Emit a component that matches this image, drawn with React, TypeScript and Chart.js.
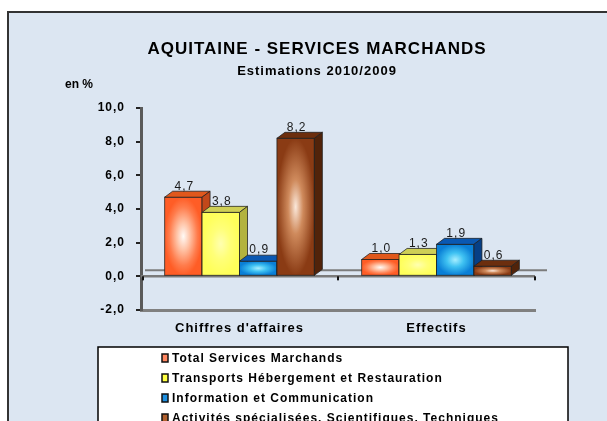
import React, { useEffect, useRef } from "react";
import { Chart, registerables } from "chart.js";

Chart.register(...registerables);

// ---------- data ----------
const categories = ["Chiffres d'affaires", "Effectifs"];
const seriesNames = [
  "Total Services Marchands",
  "Transports Hébergement et Restauration",
  "Information et Communication",
  "Activités spécialisées, Scientifiques, Techniques",
];
const totalServices = [4.7, 1.0];
const transports = [3.8, 1.3];
const information = [0.9, 1.9];
const activites = [8.2, 0.6];
const yTicks = [-2, 0, 2, 4, 6, 8, 10];
const titleText = "AQUITAINE - SERVICES MARCHANDS";
const subtitleText = "Estimations 2010/2009";
const unitText = "en %";

// ---------- styles ----------
const FONT = "'Liberation Sans', Arial, Helvetica, sans-serif";
const DX = 8;
const DY = 6;
type Palette = { stops: [number, string][]; top: string; side: string; legend: string };
const palettes: Palette[] = [
  {
    stops: [[0, "#fffaf6"], [0.35, "#ffc3a6"], [0.75, "#ff7c4c"], [1, "#ff5d26"]],
    top: "#e0581c",
    side: "#c2481a",
    legend: "#ff8660",
  },
  {
    stops: [[0, "#ffffb0"], [0.5, "#ffff78"], [1, "#ffff5a"]],
    top: "#cfcf55",
    side: "#b3b33e",
    legend: "#ffff40",
  },
  {
    stops: [[0, "#a6eeff"], [0.45, "#3fc2f2"], [1, "#0a7fd6"]],
    top: "#0a58b2",
    side: "#063f86",
    legend: "#1e8fe0",
  },
  {
    stops: [[0, "#fbe8da"], [0.4, "#cf8a5c"], [1, "#8a3b14"]],
    top: "#6c2e0e",
    side: "#51230a",
    legend: "#b0602e",
  },
];

const fmt = (v: number) => v.toFixed(1).replace(".", ",");

const plugin3d = {
  id: "bars3d",
  beforeDraw(chart: any) {
    chart.ctx.letterSpacing = "1px";
  },
  beforeDatasetsDraw(chart: any) {
    const { ctx, chartArea: a } = chart;
    const y0 = chart.scales.y.getPixelForValue(0);
    ctx.save();
    ctx.lineCap = "butt";
    ctx.strokeStyle = "#7c7c7c";
    ctx.lineWidth = 2;
    ctx.beginPath();
    ctx.moveTo(a.left + 4, y0 - DY);
    ctx.lineTo(a.right + DX + 4, y0 - DY);
    ctx.stroke();
    ctx.strokeStyle = "#7a7a7a";
    ctx.lineWidth = 2.5;
    ctx.beginPath();
    ctx.moveTo(a.left, y0);
    ctx.lineTo(a.right, y0);
    ctx.stroke();
    ctx.fillStyle = "#111";
    const n = chart.data.labels.length;
    for (let i = 0; i <= n; i++) {
      const px = a.left + ((a.right - a.left) * i) / n;
      ctx.fillRect(px - 1 + (i === 0 ? 2 : 0), y0, 2, 4);
    }
    ctx.restore();
  },
  afterDatasetsDraw(chart: any) {
    const { ctx } = chart;
    const n = chart.data.labels.length;
    const labels: { x: number; y: number; t: string }[] = [];
    ctx.save();
    for (let j = 0; j < n; j++) {
      chart.data.datasets.forEach((ds: any, i: number) => {
        const meta = chart.getDatasetMeta(i);
        const el = meta.data[j];
        if (!el) return;
        const { x, y, base, width } = el.getProps(["x", "y", "base", "width"], true);
        const p = palettes[i];
        const l = x - width / 2;
        const r = x + width / 2;
        const top = Math.min(y, base);
        const bot = Math.max(y, base);
        const h = bot - top;
        // front face with glow
        ctx.save();
        ctx.beginPath();
        ctx.rect(l, top, width, h);
        ctx.clip();
        ctx.translate(x, top + h / 2);
        ctx.scale(width / 2, Math.max(h / 2, 1));
        const g = ctx.createRadialGradient(0, 0, 0, 0, 0, 1);
        p.stops.forEach(([o, c]) => g.addColorStop(o, c));
        ctx.fillStyle = g;
        ctx.fillRect(-2, -2, 4, 4);
        ctx.restore();
        ctx.strokeStyle = "rgba(30,30,30,0.75)";
        ctx.lineWidth = 1;
        ctx.strokeRect(l, top, width, h);
        // top face
        ctx.beginPath();
        ctx.moveTo(l, top);
        ctx.lineTo(l + DX, top - DY);
        ctx.lineTo(r + DX, top - DY);
        ctx.lineTo(r, top);
        ctx.closePath();
        ctx.fillStyle = p.top;
        ctx.fill();
        ctx.stroke();
        // side face
        ctx.beginPath();
        ctx.moveTo(r, top);
        ctx.lineTo(r + DX, top - DY);
        ctx.lineTo(r + DX, bot - DY);
        ctx.lineTo(r, bot);
        ctx.closePath();
        ctx.fillStyle = p.side;
        ctx.fill();
        ctx.stroke();
        labels.push({ x: x + 1, y: top - DY - 5, t: fmt(ds.data[j]) });
      });
    }
    ctx.letterSpacing = "1px";
    ctx.font = `12px ${FONT}`;
    ctx.fillStyle = "#1a1a1a";
    ctx.textAlign = "center";
    ctx.textBaseline = "middle";
    labels.forEach((lb) => ctx.fillText(lb.t, lb.x, lb.y));
    ctx.restore();
  },
  afterDraw(chart: any) {
    const { ctx } = chart;
    ctx.save();
    ctx.fillStyle = "#000";
    ctx.textBaseline = "middle";
    ctx.textAlign = "center";
    ctx.letterSpacing = "1px";
    ctx.font = `bold 17px ${FONT}`;
    ctx.fillText(titleText, 308, 36);
    ctx.font = `bold 13px ${FONT}`;
    ctx.fillText(subtitleText, 308, 58);
    ctx.textAlign = "left";
    ctx.letterSpacing = "0px";
    ctx.font = `bold 12px ${FONT}`;
    ctx.fillText(unitText, 56, 72);

    // legend
    const L = 89, T = 334, R = 559;
    ctx.fillStyle = "#fff";
    ctx.fillRect(L, T, R - L, 120);
    ctx.strokeStyle = "#000";
    ctx.lineWidth = 1.5;
    ctx.strokeRect(L, T, R - L, 120);
    ctx.letterSpacing = "1px";
    ctx.font = `bold 12px ${FONT}`;
    chart.data.datasets.forEach((ds: any, i: number) => {
      const cy = 345 + i * 20;
      ctx.fillStyle = palettes[i].legend;
      ctx.fillRect(153, cy - 4, 6, 8);
      ctx.strokeStyle = "#111";
      ctx.lineWidth = 1.5;
      ctx.strokeRect(153, cy - 4, 6, 8);
      ctx.fillStyle = "#000";
      ctx.fillText(ds.label, 163, cy + 1);
    });
    ctx.restore();
  },
};

export default function App() {
  const ref = useRef<HTMLCanvasElement>(null);
  useEffect(() => {
    const series = [totalServices, transports, information, activites];
    const chart = new Chart(ref.current as HTMLCanvasElement, {
      type: "bar",
      data: {
        labels: categories,
        datasets: series.map((d, i) => ({
          label: seriesNames[i],
          data: d,
          backgroundColor: "rgba(0,0,0,0)",
          borderWidth: 0,
        })),
      },
      options: {
        animation: false,
        responsive: false,
        devicePixelRatio: 1,
        layout: { padding: { left: 0, right: 72, top: 95, bottom: 71 } },
        plugins: {
          legend: { display: false },
          title: { display: false },
          tooltip: { enabled: false },
        },
        datasets: { bar: { categoryPercentage: 0.76, barPercentage: 1 } },
        scales: {
          x: {
            grid: { display: true, drawOnChartArea: false, drawTicks: false },
            border: { display: true, color: "#808080", width: 3 },
            ticks: { font: { family: FONT, size: 13, weight: "bold" }, color: "#000", padding: 11 },
            afterFit: (s: any) => {
              s.height = 40;
            },
          },
          y: {
            min: -2,
            max: 10,
            afterBuildTicks: (s: any) => {
              s.ticks = yTicks.map((v) => ({ value: v }));
            },
            ticks: {
              callback: (v: any) => fmt(Number(v)),
              font: { family: FONT, size: 12, weight: "bold" },
              color: "#000",
              padding: 11,
            },
            grid: { drawOnChartArea: false, drawTicks: true, tickLength: 5, color: "#222", lineWidth: 2 },
            border: { display: true, color: "#5a5a5a", width: 3 },
            afterFit: (s: any) => {
              s.width = 132;
            },
          },
        },
      } as any,
      plugins: [plugin3d as any],
    });
    return () => chart.destroy();
  }, []);
  return (
    <div
      style={{
        position: "fixed",
        left: 7,
        top: 11,
        width: 620,
        height: 430,
        border: "2px solid #333",
        background: "#DCE6F2",
        boxSizing: "border-box",
        overflow: "hidden",
      }}
    >
      <canvas ref={ref} width={598} height={408} style={{ display: "block" }} />
    </div>
  );
}
